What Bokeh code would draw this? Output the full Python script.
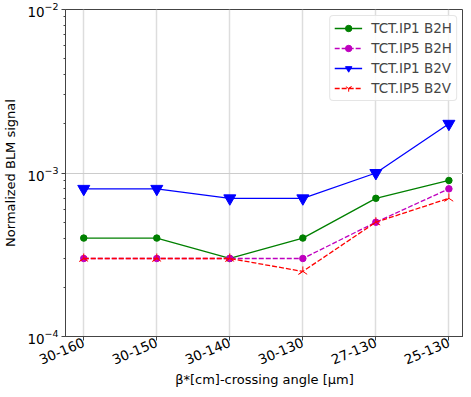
import numpy as np
from bokeh.plotting import figure
from bokeh.models import Range1d, FixedTicker, Legend, LegendItem
from bokeh.embed import file_html
from bokeh.resources import INLINE

categories = ["30-160", "30-150", "30-140", "30-130", "27-130", "25-130"]
ip1_b2h = [4e-4, 4e-4, 3e-4, 4e-4, 7e-4, 9e-4]
ip5_b2h = [3e-4, 3e-4, 3e-4, 3e-4, 5e-4, 8e-4]
ip1_b2v = [8e-4, 8e-4, 7e-4, 7e-4, 1e-3, 2e-3]
ip5_b2v = [3e-4, 3e-4, 3e-4, 2.5e-4, 5e-4, 7e-4]
labels = ["TCT.IP1 B2H", "TCT.IP5 B2H", "TCT.IP1 B2V", "TCT.IP5 B2V"]
y_major = [1e-4, 1e-3, 1e-2]
x_title = "β*[cm]-crossing angle [μm]"
y_title = "Normalized BLM signal"

x = list(range(len(categories)))
FONT = "DejaVu Sans"

p = figure(width=463, height=397, y_axis_type="log",
           x_range=Range1d(-0.25, 5.2), y_range=Range1d(1e-4, 1e-2),
           output_backend="svg", toolbar_location=None,
           min_border_left=54, min_border_top=9, min_border_right=0,
           min_border_bottom=61)

p.xaxis.ticker = FixedTicker(ticks=x)
p.xaxis.major_label_overrides = {i: c for i, c in enumerate(categories)}
p.xaxis.major_label_orientation = 0.4
minor = [m * d for d in y_major[:-1] for m in range(2, 10)]
p.yaxis.ticker = FixedTicker(ticks=y_major, minor_ticks=minor)

for ax in (p.xaxis[0], p.yaxis[0]):
    ax.major_label_text_font = FONT
    ax.major_label_text_font_size = "13.5px"
    ax.major_label_text_color = "#000000"
    ax.axis_label_text_font = FONT
    ax.axis_label_text_font_size = "13px"
    ax.axis_label_text_font_style = "normal"
    ax.axis_label_text_color = "#000000"
    ax.axis_line_color = "#444444"
    ax.major_tick_line_color = "#444444"
    ax.minor_tick_line_color = "#444444"
    ax.major_tick_out = 4
    ax.major_tick_in = 0
    ax.minor_tick_out = 2
    ax.minor_tick_in = 0
    ax.major_label_standoff = 3
    ax.axis_label_standoff = 6
p.xaxis.major_label_standoff = 1
p.xaxis.axis_label_standoff = 0
p.xaxis.minor_tick_line_color = None
p.xaxis.axis_label = x_title
p.yaxis.axis_label = y_title

p.outline_line_color = "#444444"
p.xgrid.grid_line_color = "#dddddd"
p.xgrid.grid_line_width = 1.5
p.ygrid.grid_line_color = "#cccccc"
p.ygrid.grid_line_width = 1

r1l = p.line(x, ip1_b2h, line_color="green", line_width=1.3)
r1m = p.scatter(x, ip1_b2h, marker="circle", size=6.5, fill_color="green", line_color="green")
r2l = p.line(x, ip5_b2h, line_color="#bf00bf", line_width=1.3, line_dash="5 2")
r2m = p.scatter(x, ip5_b2h, marker="circle", size=6.5, fill_color="#bf00bf", line_color="#bf00bf")
r3l = p.line(x, ip1_b2v, line_color="blue", line_width=1.3)
r3m = p.scatter(x, ip1_b2v, marker="inverted_triangle", size=12, fill_color="blue", line_color="blue")
r4l = p.line(x, ip5_b2v, line_color="red", line_width=1.3, line_dash="5 2")
r4m = p.scatter(x, ip5_b2v, marker="y", angle=np.pi, size=10, fill_color=None, line_color="red", line_width=1)

legend = Legend(items=[
    LegendItem(label=labels[0], renderers=[r1l, r1m]),
    LegendItem(label=labels[1], renderers=[r2l, r2m]),
    LegendItem(label=labels[2], renderers=[r3l, r3m]),
    LegendItem(label=labels[3], renderers=[r4l, r4m]),
], location="top_right")
legend.label_text_font = FONT
legend.label_text_font_size = "13.5px"
legend.glyph_width = 28
legend.glyph_height = 16
legend.label_height = 16
legend.spacing = 4
legend.padding = 4
legend.margin = 6
legend.label_standoff = 9
legend.border_line_color = "#cccccc"
legend.border_radius = 4
legend.background_fill_alpha = 0.85
p.add_layout(legend)

open("out.html", "w").write(file_html(p, INLINE))
